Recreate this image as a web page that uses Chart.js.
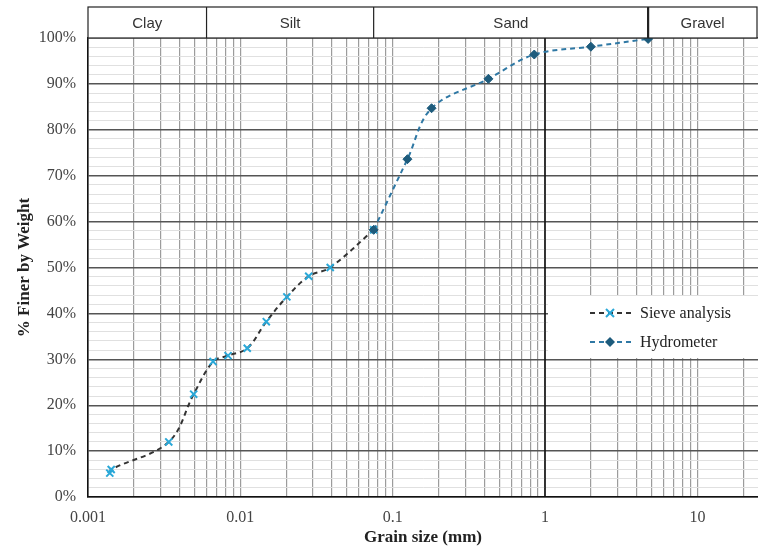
<!DOCTYPE html>
<html>
<head>
<meta charset="utf-8">
<script src="https://cdn.jsdelivr.net/npm/chart.js@4.4.1/dist/chart.umd.min.js"></script>
<style>
  html, body { margin: 0; padding: 0; background: #fff; }
</style>
</head>
<body>
<canvas id="grading" width="758" height="548"></canvas>
<script>
'use strict';

// ── DATA ──────────────────────────────────────────────────────────
const SIEVE_SIZE = [0.00139, 0.00142, 0.00339, 0.00494, 0.00662, 0.0083, 0.0111, 0.0148, 0.0202, 0.0281, 0.0389, 0.075];
const SIEVE_PASS = [5.2, 6.0, 12.0, 22.4, 29.5, 30.8, 32.4, 38.2, 43.6, 48.1, 50.0, 58.2];
const HYDRO_SIZE = [0.075, 0.125, 0.18, 0.425, 0.85, 2.0, 4.75];
const HYDRO_PASS = [58.2, 73.6, 84.7, 91.1, 96.4, 98.1, 99.8];

const SOIL_CLASSES = ['Clay', 'Silt', 'Sand', 'Gravel'];
const CLASS_LIMITS = [0.006, 0.075, 4.75];

const X_DECADES = [0.001, 0.01, 0.1, 1, 10];
const X_LABELS  = ['0.001', '0.01', '0.1', '1', '10'];
const X_MULTS   = [1, 2, 3, 4, 5, 6, 7, 8, 9];
const X_MIN = 0.001, X_MAX = 25;

// ── STYLE ─────────────────────────────────────────────────────────
const SERIF = "'Liberation Serif', 'DejaVu Serif', serif";
const SANS  = "'Liberation Sans', Arial, sans-serif";
const SIEVE_LINE = '#333333', SIEVE_MARK = '#2aa8d8';
const HYDRO_LINE = '#2f78a4', HYDRO_MARK = '#1d5b7c';

// grid values for the log axis (1..9 in each decade)
const X_GRID = [];
X_DECADES.forEach(d => X_MULTS.forEach(m => {
  const v = +(d * m).toPrecision(6);
  if (v <= X_MAX) X_GRID.push(v);
}));

function pointsOf(xs, ys) {
  return xs.map((x, i) => ({ x, y: ys[i] }));
}

// ── HEADER BAND, UNIT LINE + LEGEND ───────────────────────────────
const headerPlugin = {
  id: 'header',
  beforeDatasetsDraw(chart) {
    // the 1 mm line is drawn solid black over the minor grid
    const ctx = chart.ctx, area = chart.chartArea;
    const x1 = chart.scales.x.getPixelForValue(1);
    ctx.save();
    ctx.strokeStyle = '#111';
    ctx.lineWidth = 1.6;
    ctx.beginPath();
    ctx.moveTo(x1, area.top);
    ctx.lineTo(x1, area.bottom);
    ctx.stroke();
    ctx.restore();
  },
  afterDraw(chart) {
    const ctx = chart.ctx, area = chart.chartArea, xs = chart.scales.x;
    const top = 7, bot = area.top;
    const right = area.right - 1;
    const edges = [area.left, ...CLASS_LIMITS.map(v => xs.getPixelForValue(v)), right];
    ctx.save();
    ctx.fillStyle = '#fff';
    ctx.fillRect(area.left, top, right - area.left, bot - top);
    ctx.strokeStyle = '#222';
    ctx.lineWidth = 1.2;
    ctx.strokeRect(area.left, top, right - area.left, bot - top);
    for (let i = 1; i < edges.length - 1; i++) {
      ctx.lineWidth = i === edges.length - 2 ? 2.2 : 1.2;
      ctx.beginPath();
      ctx.moveTo(edges[i], top);
      ctx.lineTo(edges[i], bot);
      ctx.stroke();
    }
    ctx.fillStyle = '#333';
    ctx.font = '15px ' + SANS;
    ctx.textAlign = 'center';
    ctx.textBaseline = 'middle';
    SOIL_CLASSES.forEach((name, i) => {
      ctx.fillText(name, (edges[i] + edges[i + 1]) / 2, (top + bot) / 2 + 1);
    });

    // legend
    const lx = 548, ly = 296, lw = area.right - lx, lh = 62;
    ctx.fillStyle = '#fff';
    ctx.fillRect(lx, ly, lw, lh);
    chart.data.datasets.forEach((ds, i) => {
      const y = 313 + i * 29;
      ctx.setLineDash([5, 4]);
      ctx.lineWidth = 1.8;
      ctx.strokeStyle = ds.borderColor;
      ctx.beginPath();
      ctx.moveTo(590, y);
      ctx.lineTo(632, y);
      ctx.stroke();
      ctx.setLineDash([]);
      const mx = 610;
      if (ds.pointStyle === 'crossRot') {
        ctx.strokeStyle = ds.pointBorderColor;
        ctx.lineWidth = 2;
        ctx.beginPath();
        ctx.moveTo(mx - 4, y - 4); ctx.lineTo(mx + 4, y + 4);
        ctx.moveTo(mx + 4, y - 4); ctx.lineTo(mx - 4, y + 4);
        ctx.stroke();
      } else {
        ctx.fillStyle = ds.pointBackgroundColor;
        ctx.beginPath();
        ctx.moveTo(mx, y - 5); ctx.lineTo(mx + 5, y);
        ctx.lineTo(mx, y + 5); ctx.lineTo(mx - 5, y);
        ctx.closePath();
        ctx.fill();
      }
      ctx.fillStyle = '#222';
      ctx.font = '16px ' + SERIF;
      ctx.textAlign = 'left';
      ctx.fillText(ds.label, 640, y + 1);
    });
    ctx.restore();
  }
};

// ── CHART ─────────────────────────────────────────────────────────
new Chart(document.getElementById('grading'), {
  type: 'scatter',
  data: {
    datasets: [
      {
        label: 'Sieve analysis',
        data: pointsOf(SIEVE_SIZE, SIEVE_PASS),
        showLine: true,
        borderColor: SIEVE_LINE,
        borderWidth: 2,
        borderDash: [5, 4],
        tension: 0.35,
        pointStyle: 'crossRot',
        pointRadius: 5,
        pointBorderWidth: 2,
        pointBorderColor: SIEVE_MARK,
        pointBackgroundColor: SIEVE_MARK,
        order: 2
      },
      {
        label: 'Hydrometer',
        data: pointsOf(HYDRO_SIZE, HYDRO_PASS),
        showLine: true,
        borderColor: HYDRO_LINE,
        borderWidth: 2,
        borderDash: [5, 4],
        tension: 0.35,
        pointStyle: 'rectRot',
        pointRadius: 4.5,
        pointBorderWidth: 1,
        pointBorderColor: HYDRO_MARK,
        pointBackgroundColor: HYDRO_MARK,
        order: 1
      }
    ]
  },
  options: {
    responsive: false,
    animation: false,
    layout: { autoPadding: false, padding: { top: 38, right: 0, left: 0, bottom: 0 } },
    plugins: { legend: { display: false }, tooltip: { enabled: false } },
    scales: {
      x: {
        type: 'logarithmic',
        min: X_MIN,
        max: X_MAX,
        afterBuildTicks: s => { s.ticks = X_GRID.map(v => ({ value: v })); },
        afterFit: s => { s.height = 51; s.paddingLeft = 0; s.paddingRight = 0; },
        ticks: {
          autoSkip: false,
          maxRotation: 0,
          padding: 11,
          color: '#444',
          font: { family: SERIF, size: 16 },
          callback: v => {
            const i = X_DECADES.indexOf(v);
            return i >= 0 ? X_LABELS[i] : '';
          }
        },
        grid: {
          drawTicks: false,
          color: '#9c9c9c',
          lineWidth: 1.2
        },
        border: { color: '#111', width: 1.6 },
        title: {
          display: true,
          text: 'Grain size (mm)',
          color: '#222',
          font: { family: SERIF, size: 17, weight: 'bold' },
          padding: { top: 0, bottom: 0 }
        }
      },
      y: {
        min: 0,
        max: 100,
        afterFit: s => { s.width = 88; },
        ticks: {
          stepSize: 2,
          autoSkip: false,
          padding: 12,
          color: '#444',
          font: { family: SERIF, size: 16 },
          callback: v => (v % 10 === 0 ? v + '%' : '')
        },
        grid: {
          drawTicks: false,
          color: c => (c.tick && c.tick.value % 10 === 0) ? '#555' : '#e0e0e0',
          lineWidth: c => (c.tick && c.tick.value % 10 === 0) ? 1.4 : 1
        },
        border: { color: '#111', width: 1.6 },
        title: {
          display: true,
          text: '% Finer by Weight',
          color: '#222',
          font: { family: SERIF, size: 17, weight: 'bold' },
          padding: { top: 14, bottom: 0 }
        }
      }
    }
  },
  plugins: [headerPlugin]
});
</script>
</body>
</html>
